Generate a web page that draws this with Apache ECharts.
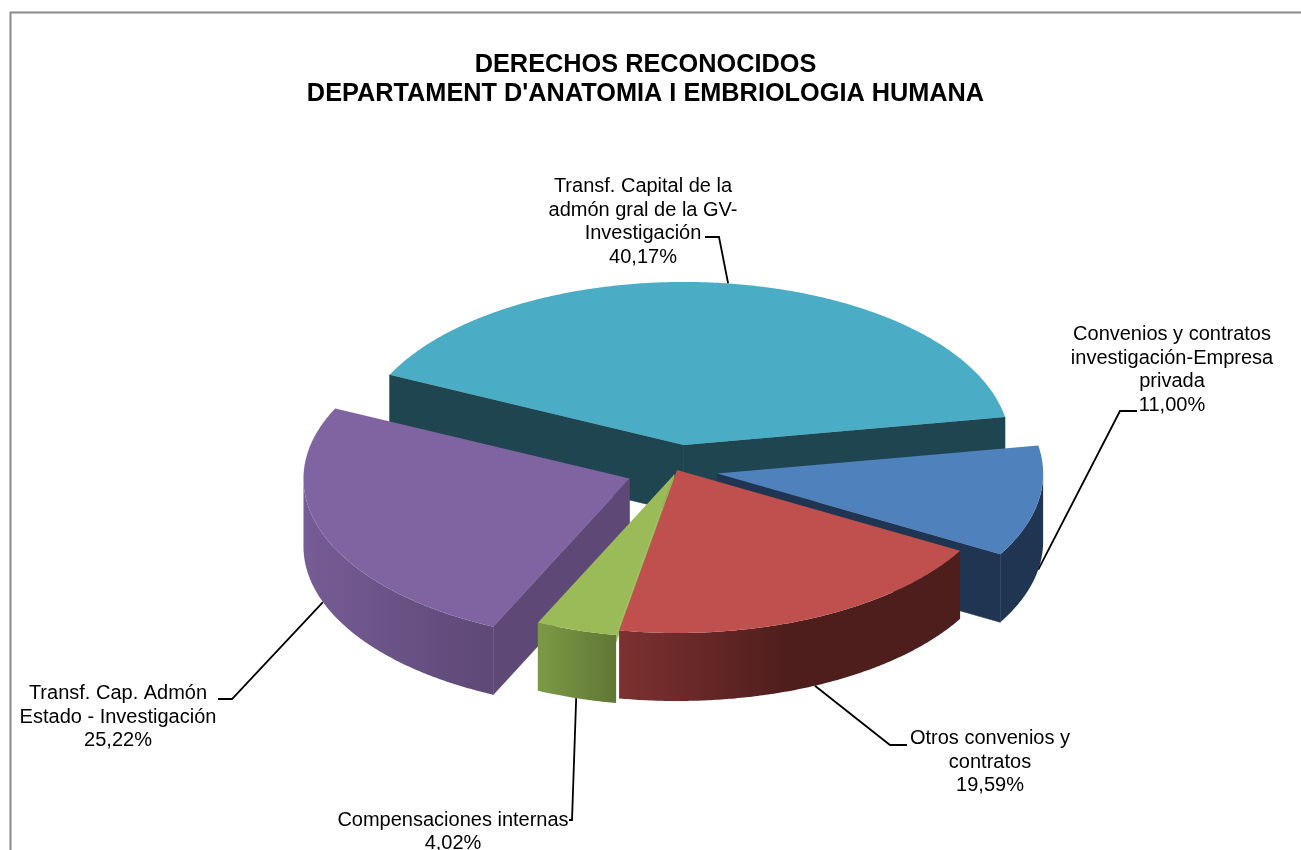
<!DOCTYPE html>
<html><head><meta charset="utf-8">
<style>html,body{margin:0;padding:0;background:#fff;overflow:hidden}#c{width:1301px;height:850px}</style>
<script src="https://cdn.jsdelivr.net/npm/echarts@6/dist/echarts.min.js"></script>
</head><body><div id="c"></div>
<script>
// Data
const categories = ["Transf. Capital de la\nadmón gral de la GV-\nInvestigación","Convenios y contratos\ninvestigación-Empresa\nprivada","Otros convenios y\ncontratos","Compensaciones internas","Transf. Cap. Admón\nEstado - Investigación"];
const values = [40.17, 11.00, 19.59, 4.02, 25.22];
const titleText = "DERECHOS RECONOCIDOS\nDEPARTAMENT D'ANATOMIA I EMBRIOLOGIA HUMANA";

// Styling and layout
const topColors  = ["#4BACC6","#4F81BD","#C0504D","#9BBB59","#8064A2"];
const wallColors = [["#1F4650","#1F4650"],["#1F3552","#1F3552"],["#4E1E1C","#4E1E1C"],["#9BBB59","#617735"],["#5D4876","#5D4876"]];
const wallDepthScale = [[1,1],[1,1],[1,1],[0.1,1],[1,1]];
const sideStops  = [["#1F4650","#1F4650"],["#1F3552","#1F3552"],["#7D3131","#4E1E1C"],["#7B9A45","#617735"],["#775C95","#5D4876"]];
const sideSpan   = [1, 1, 0.5, 1, 1];
const explode    = [0.155, 0.125, 0, 0.03, 0.155];
const zOrder     = [1, 3, 5, 4, 2];
const labelPos   = [[643,222],[1172,370],[990,762],[453,832],[118,717]];
const elbows     = [[[705,237],[719,237]],[[1137,411],[1120,411]],[[907,745],[890,745]],[[569,820],[572,820]],[[218,699],[232,699]]];
const leaderOnTop = [true,false,false,false,false];
const pie = {cx:677, cy:470, a:326, b:163, depth:68, startDeg:205.5};

const total = values.reduce((s,v)=>s+v,0);
function sliceAngles(i){
  let s = pie.startDeg;
  for(let k=0;k<i;k++) s += values[k]/total*360;
  return [s, s+values[i]/total*360];
}
function rad(d){return d*Math.PI/180;}

function renderSlice(params, api){
  const i = params.dataIndex;
  const val = api.value(0);
  const [t0,t1] = sliceAngles(i);
  const mid = (t0+t1)/2;
  const cx = pie.cx + explode[i]*pie.a*Math.cos(rad(mid));
  const cy = pie.cy + explode[i]*pie.b*Math.sin(rad(mid));
  const P = (t,dz)=>[cx+pie.a*Math.cos(rad(t)), cy+pie.b*Math.sin(rad(t))+(dz||0)];
  const z = zOrder[i]*10;
  const d = pie.depth;
  const children = [];

  // leader line
  const anchor = P(mid, leaderOnTop[i]?0:d);
  children.push({type:'polyline',z2:1,shape:{points:[elbows[i][0],elbows[i][1],anchor]},
    style:{stroke:'#000',lineWidth:1.8,fill:null}});

  // cut walls, only those that face the viewer
  [t0,t1].forEach((t,w)=>{
    const normal = w===0 ? t-90 : t+90;
    if(Math.sin(rad(normal))<=0) return;
    const wd = d*wallDepthScale[i][w];
    children.push({type:'polygon',z2:z,shape:{points:[[cx,cy],P(t),P(t,wd),[cx,cy+wd]]},
      style:{fill:wallColors[i][w],stroke:wallColors[i][w],lineWidth:0.6}});
  });

  // outer wall: visible where the rim faces front
  const ranges = [];
  for(let k=-360;k<=360;k+=360){
    const lo=Math.max(t0,k), hi=Math.min(t1,k+180);
    if(hi>lo) ranges.push([lo,hi]);
  }
  ranges.forEach(([lo,hi])=>{
    const up=[],down=[];
    for(let t=lo;t<hi;t+=0.5){up.push(P(t));down.unshift(P(t,d));}
    up.push(P(hi));down.unshift(P(hi,d));
    const xs=up.map(p=>p[0]);
    const x0=Math.min(...xs),x1=Math.max(...xs);
    const stops=sideStops[i];
    const fill=new echarts.graphic.LinearGradient(x0,0,x1,0,[
      {offset:0,color:stops[0]},{offset:sideSpan[i],color:stops[1]},{offset:1,color:stops[1]}],true);
    children.push({type:'polygon',z2:z+1,shape:{points:up.concat(down)},style:{fill}});
  });

  // top face
  const top=[[cx,cy]];
  for(let t=t0;t<t1;t+=0.5) top.push(P(t));
  top.push(P(t1));
  children.push({type:'polygon',z2:z+2,shape:{points:top},style:{fill:topColors[i]}});

  // label
  children.push({type:'text',z2:100,style:{
    text:categories[i]+"\n"+val.toFixed(2).replace('.',',')+"%",
    x:labelPos[i][0],y:labelPos[i][1],align:'center',verticalAlign:'middle',
    fill:'#000',font:'20px "Liberation Sans"',lineHeight:23.5}});
  return {type:'group',children};
}

const chart = echarts.init(document.getElementById('c'));
chart.setOption({
  animation:false,
  backgroundColor:'#fff',
  title:{text:titleText,left:640.5,top:46,textAlign:'center',
    textStyle:{fontFamily:'Liberation Sans',fontWeight:'bold',fontSize:25.3,lineHeight:29,color:'#000'}},
  graphic:[{type:'rect',silent:true,z:-1,shape:{x:10.5,y:12.5,width:1400,height:900},
    style:{fill:'#fff',stroke:'#8A8A8A',lineWidth:2}}],
  series:[{type:'custom',coordinateSystem:'none',silent:true,clip:false,
    data:values.map((v,i)=>({name:categories[i],value:[v]})),
    renderItem:renderSlice}]
});
</script></body></html>
